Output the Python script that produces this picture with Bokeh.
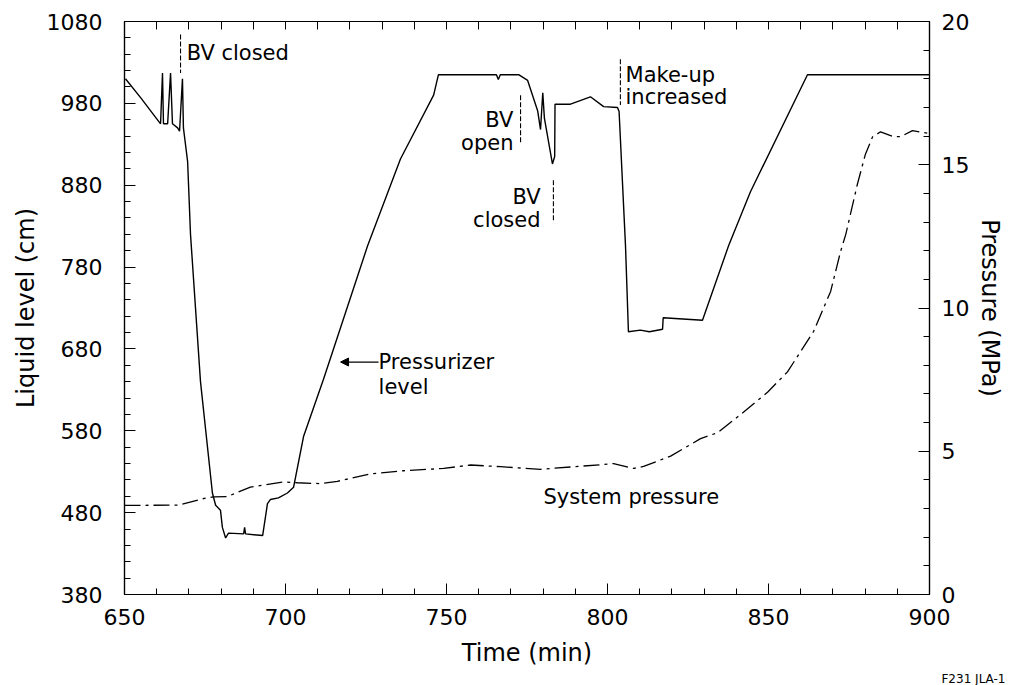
import math
from bokeh.plotting import figure
from bokeh.models import Range1d, LinearAxis, FixedTicker, Arrow, NormalHead, Title
from bokeh.core.properties import value
from bokeh.embed import file_html
from bokeh.resources import INLINE

# ---------------- data ----------------
level_time = [650.3, 655.0, 661.2, 661.8, 662.1, 663.4, 664.3, 664.9, 666.5, 667.1, 668.0, 668.3,
              669.6, 670.5, 673.6, 677.3, 678.3, 679.8, 680.4, 681.4, 682.3, 687.0, 687.3, 687.6,
              692.9, 694.4, 695.3, 697.8, 700.6, 702.5, 705.6, 711.8, 725.5, 735.7, 746.0, 747.5,
              765.5, 766.1, 766.7, 772.4, 775.2, 778.3, 779.2, 779.9, 780.4, 782.9, 783.6, 783.7,
              788.5, 794.7, 798.8, 803.1, 803.6, 805.6, 806.5, 810.2, 813.0, 817.1, 817.3, 829.5,
              837.6, 844.4, 862.1, 900.0]
level_cm = [1010, 987, 955, 1017, 955, 955, 1017, 955, 950, 946, 1010, 950,
            909, 820, 640, 504, 489, 483, 462, 449, 455, 454, 462, 454,
            452, 491, 496, 498, 504, 511, 573, 643, 806, 912, 990, 1015,
            1015, 1009, 1015, 1015, 1008, 971, 948, 993, 962, 906, 915, 979,
            979, 988, 976, 975, 970, 805, 701, 703, 701, 704, 718, 715,
            806, 872, 1015, 1015]

pressure_time = [650.0, 666.8, 674.2, 677.6, 682.0, 689.1, 699.4, 703.7, 710.9, 716.1, 726.4,
                 736.6, 749.1, 757.5, 766.8, 779.2, 797.8, 801.9, 808.1, 811.2, 819.6, 828.9,
                 834.2, 842.2, 849.7, 855.9, 859.9, 864.0, 869.3, 872.4, 874.0, 877.6, 880.1,
                 882.3, 884.8, 888.8, 891.0, 894.7, 900.0]
pressure_mpa = [3.11, 3.12, 3.34, 3.41, 3.42, 3.75, 3.93, 3.90, 3.87, 3.95, 4.21,
                4.32, 4.40, 4.52, 4.46, 4.37, 4.53, 4.57, 4.40, 4.47, 4.83, 5.44,
                5.65, 6.36, 7.06, 7.77, 8.47, 9.18, 10.58, 11.98, 12.57, 14.32, 15.37,
                15.97, 16.15, 15.98, 15.98, 16.19, 16.09]

x_major = [650, 700, 750, 800, 850, 900]
x_minor = list(range(650, 901, 10))
level_major = [380, 480, 580, 680, 780, 880, 980, 1080]
level_minor = list(range(380, 1081, 20))
pres_major = [0, 5, 10, 15, 20]
pres_minor = list(range(0, 21, 1))

# event markers (time, level from, level to)
marker_time = [667.4, 773.0, 783.2, 804.0]
marker_from = [1064, 990, 886, 1034]
marker_to = [1017, 932, 837, 978]

# annotation texts (time, level, text, align)
note_time = [669.3, 770.8, 770.8, 779.2, 779.2, 805.6, 805.6, 728.9, 728.9, 780.1]
note_level = [1041, 960, 932, 865, 838, 1015, 988, 664, 633, 499]
note_text = ["BV closed", "BV", "open", "BV", "closed", "Make-up", "increased",
             "Pressurizer", "level", "System pressure"]
note_align = ["left", "right", "right", "right", "right", "left", "left", "left", "left", "left"]

FONT = "DejaVu Sans"
W, H = 1008, 685
FL, FR, FT, FB = 124, 929, 21, 595  # frame edges in page pixels

p = figure(width=W, height=H, output_backend="svg", toolbar_location=None,
           x_range=Range1d(650, 900), y_range=Range1d(380, 1080),
           min_border_left=FL, min_border_right=W - FR, min_border_top=FT,
           min_border_bottom=H - FB)
p.extra_y_ranges = {"p": Range1d(0, 20)}
p.background_fill_color = "white"
p.border_fill_color = "white"
p.outline_line_color = "black"
p.outline_line_width = 1.2
p.xgrid.visible = False
p.ygrid.visible = False

def style_axis(ax, major, minor, size=22):
    ax.ticker = FixedTicker(ticks=major, minor_ticks=minor)
    ax.major_tick_in = 11
    ax.major_tick_out = 0
    ax.minor_tick_in = 6
    ax.minor_tick_out = 0
    ax.axis_line_color = "black"
    ax.axis_line_width = 1.2
    ax.major_tick_line_color = "black"
    ax.minor_tick_line_color = "black"
    ax.major_label_text_font = FONT
    ax.major_label_text_font_size = f"{size}px"
    ax.major_label_text_color = "black"
    ax.axis_label_text_font = FONT
    ax.axis_label_text_font_size = "24px"
    ax.axis_label_text_font_style = "normal"
    ax.axis_label_text_color = "black"

xa = p.xaxis[0]
style_axis(xa, x_major, x_minor)
xa.axis_label = "Time (min)"
xa.major_label_standoff = 14
xa.axis_label_standoff = 11

ya = p.yaxis[0]
style_axis(ya, level_major, level_minor)
ya.axis_label = "Liquid level (cm)"
ya.major_label_standoff = 22
ya.axis_label_standoff = 4

ra = LinearAxis(y_range_name="p")
style_axis(ra, pres_major, pres_minor)
ra.major_label_standoff = 12
ra.axis_label = "Pressure (MPa)"
ra.axis_label_standoff = 4
p.add_layout(ra, "right")

# top axis: tick marks only (no labels)
ta = LinearAxis()
ta.ticker = FixedTicker(ticks=[], minor_ticks=x_minor)
ta.minor_tick_in = 8
ta.minor_tick_out = 0
ta.major_tick_in = 0
ta.major_tick_out = 0
ta.axis_line_color = "black"
ta.minor_tick_line_color = "black"
p.add_layout(ta, "above")

# small figure id at the bottom right
p.add_layout(Title(text="F231 JLA-1", align="right", offset=-76, standoff=0,
                   text_font=FONT, text_font_size="12px", text_font_style="normal",
                   text_color="black"), "below")

# data lines
p.line(level_time, level_cm, line_color="black", line_width=1.4)
p.line(pressure_time, pressure_mpa, y_range_name="p", line_color="black", line_width=1.3,
       line_dash="16 5 3 5")

# event markers
p.segment(x0=marker_time, y0=marker_from, x1=marker_time, y1=marker_to,
          line_color="black", line_width=1.1, line_dash="5 2")

# annotations
for t, lv, txt, al in zip(note_time, note_level, note_text, note_align):
    p.text(x=[t], y=[lv], text=[txt], text_font=value(FONT), text_font_size="21px",
           text_align=al, text_baseline="middle", text_color="black")

p.add_layout(Arrow(end=NormalHead(size=8, fill_color="black", line_color="black"),
                   x_start=728.9, y_start=664, x_end=717.1, y_end=664,
                   line_color="black", line_width=1.3))

open("out.html", "w").write(file_html(p, INLINE))
